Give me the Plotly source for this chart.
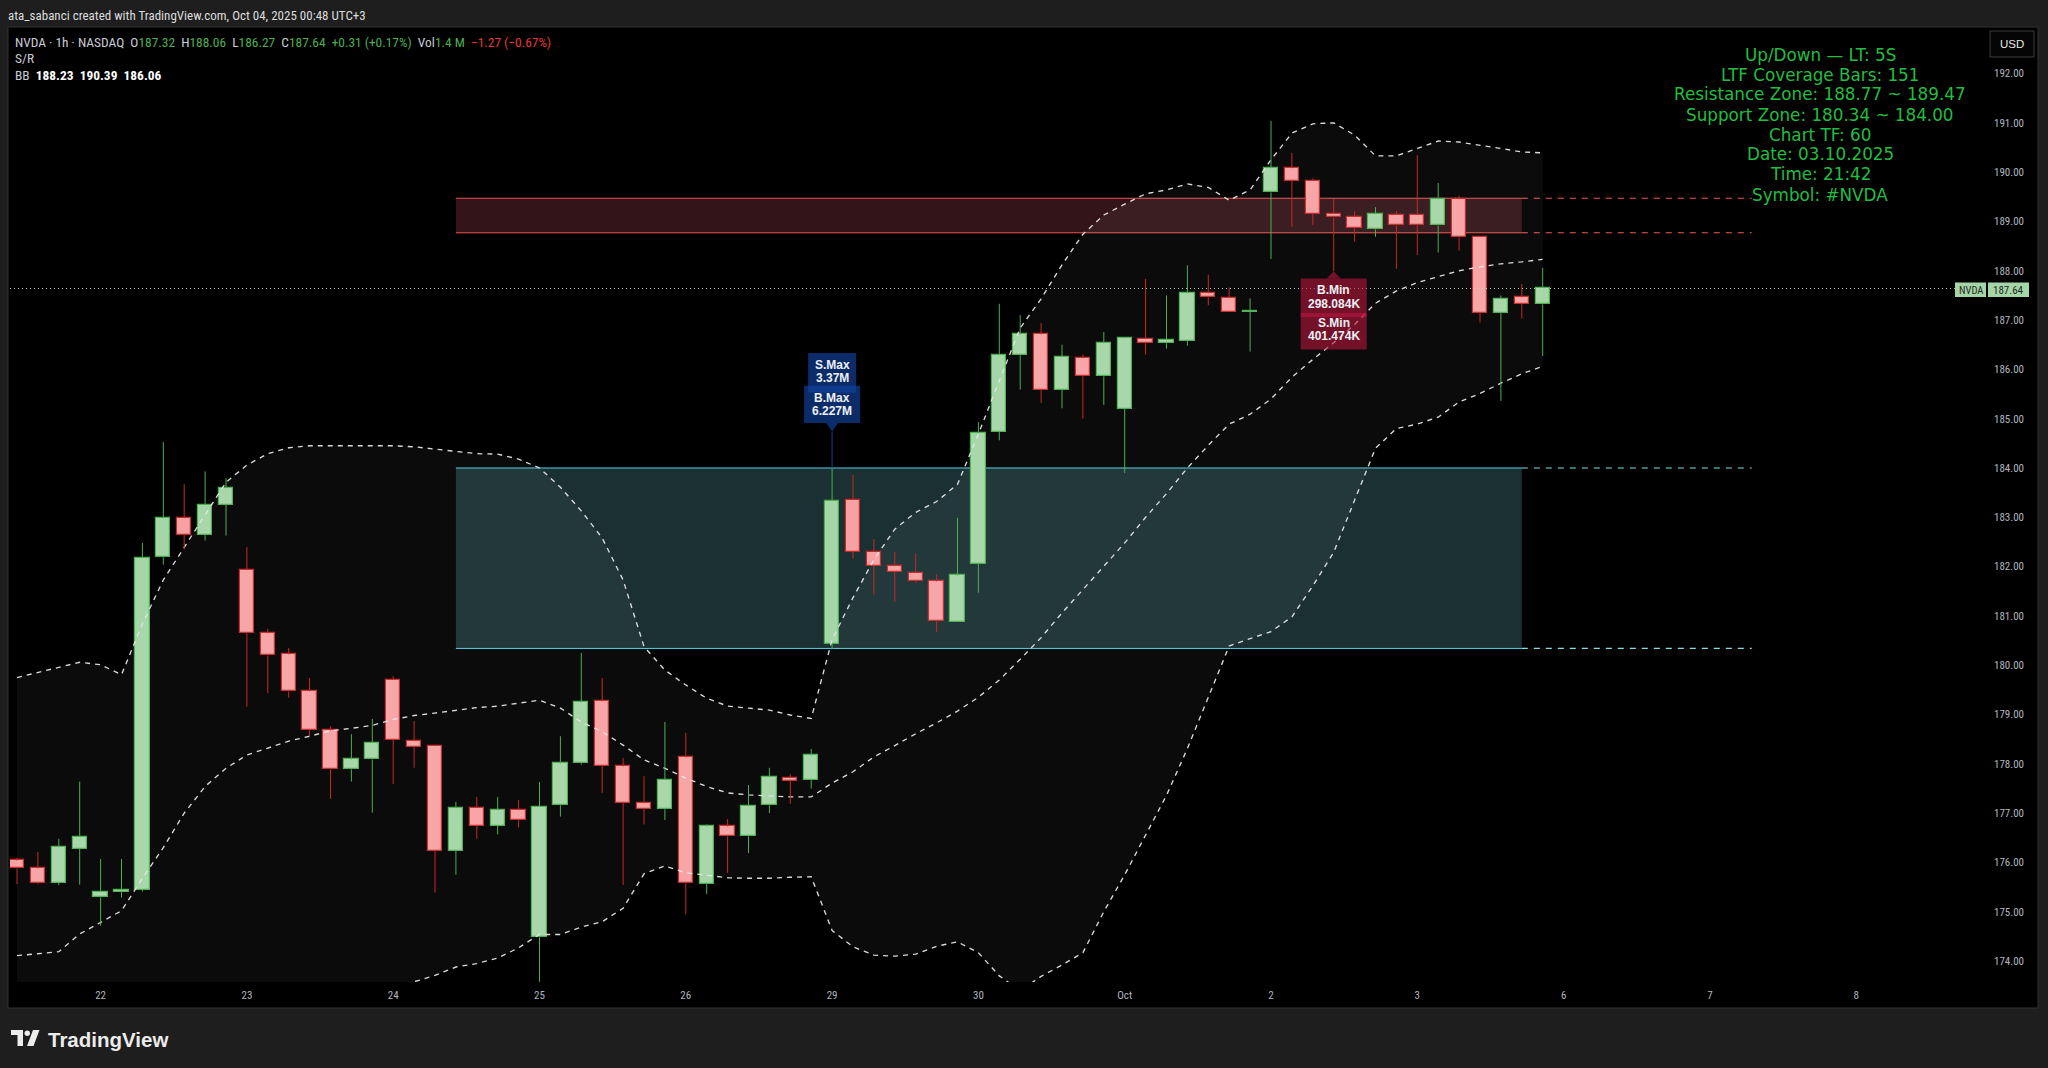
import plotly.graph_objects as go
import numpy as np

# ---------------- data ----------------
bar_idx = list(range(74))
open_ = [176.04, 175.88, 175.59, 176.28, 175.29, 175.41, 175.44, 182.19, 182.98, 182.64,
         183.25, 181.93, 180.65, 180.22, 179.47, 178.68, 177.89, 178.09, 179.71, 178.47,
         178.36, 176.24, 177.11, 176.74, 177.06, 174.48, 177.16, 178.01, 179.27, 177.95,
         177.20, 177.08, 178.13, 175.56, 176.73, 176.53, 177.16, 177.72, 177.67, 180.43,
         183.35, 182.30, 182.02, 181.88, 181.70, 180.87, 182.06, 184.73, 186.29, 186.71,
         185.59, 186.24, 185.86, 185.20, 186.62, 186.53, 186.58, 187.54, 187.45, 187.16,
         189.59, 190.08, 189.83, 189.16, 189.10, 188.84, 189.14, 189.14, 188.92, 189.45,
         188.68, 187.14, 187.46, 187.32]
high = [176.09, 176.21, 176.48, 177.64, 176.07, 176.07, 182.48, 184.53, 183.67, 183.93,
        183.79, 182.40, 180.74, 180.35, 179.74, 178.76, 178.60, 178.91, 179.78, 178.87,
        178.39, 177.23, 177.33, 177.33, 177.27, 177.63, 178.56, 180.25, 179.74, 178.12,
        177.75, 178.85, 178.63, 176.77, 176.88, 177.57, 177.92, 177.79, 178.30, 184.00,
        183.86, 182.56, 182.30, 182.26, 181.84, 182.99, 184.93, 187.33, 187.10, 186.94,
        186.50, 186.30, 186.76, 186.65, 187.83, 187.50, 188.11, 187.92, 187.66, 187.44,
        191.04, 190.39, 189.87, 189.46, 189.21, 189.29, 189.21, 190.35, 189.78, 189.52,
        188.68, 187.50, 187.73, 188.06]
low = [175.56, 175.56, 175.54, 175.55, 174.72, 175.29, 175.41, 182.04, 182.35, 182.53,
       182.63, 179.16, 179.43, 179.34, 178.56, 177.29, 177.64, 177.01, 177.59, 177.92,
       175.39, 175.75, 176.48, 176.57, 176.71, 173.58, 176.93, 177.98, 177.41, 175.54,
       176.77, 176.86, 174.95, 175.36, 175.79, 176.19, 177.00, 177.19, 177.50, 180.33,
       182.16, 181.43, 181.29, 181.67, 180.67, 180.87, 181.47, 184.56, 185.59, 185.32,
       185.21, 185.00, 185.28, 183.90, 186.30, 186.42, 186.48, 187.30, 187.16, 186.36,
       188.24, 188.89, 188.93, 188.60, 188.59, 188.69, 188.04, 188.32, 188.37, 188.41,
       186.95, 185.36, 187.03, 186.27]
close = [175.88, 175.58, 176.31, 176.52, 175.41, 175.45, 182.17, 182.98, 182.65, 183.25,
         183.59, 180.65, 180.20, 179.47, 178.68, 177.89, 178.09, 178.43, 178.49, 178.34,
         176.24, 177.10, 176.74, 177.06, 176.87, 177.13, 178.01, 179.25, 177.96, 177.21,
         177.08, 177.67, 175.58, 176.73, 176.53, 177.14, 177.73, 177.66, 178.17, 183.34,
         182.30, 182.01, 181.89, 181.70, 180.89, 181.82, 184.70, 186.29, 186.71, 185.59,
         186.26, 185.86, 186.53, 186.63, 186.53, 186.59, 187.54, 187.46, 187.16, 187.16,
         190.08, 189.83, 189.16, 189.08, 188.86, 189.16, 188.92, 188.92, 189.45, 188.68,
         187.14, 187.43, 187.33, 187.64]
bb_upper = [179.75, 179.85, 179.95, 180.06, 180.01, 179.81, 180.84, 181.73, 182.39, 183.05,
            183.71, 184.06, 184.29, 184.41, 184.45, 184.45, 184.45, 184.45, 184.45, 184.43,
            184.38, 184.33, 184.29, 184.28, 184.18, 184.00, 183.61, 183.13, 182.58, 181.73,
            180.38, 179.90, 179.60, 179.33, 179.17, 179.13, 179.09, 178.99, 178.92, 180.52,
            181.37, 182.14, 182.76, 183.10, 183.32, 183.67, 184.69, 185.77, 186.84, 187.43,
            188.12, 188.74, 189.13, 189.35, 189.56, 189.64, 189.76, 189.69, 189.43, 189.64,
            190.25, 190.79, 190.98, 191.00, 190.75, 190.33, 190.33, 190.48, 190.63, 190.61,
            190.55, 190.48, 190.41, 190.39]
bb_basis = [174.11, 174.15, 174.19, 174.55, 174.78, 175.02, 175.68, 176.30, 177.00, 177.54,
            177.91, 178.18, 178.32, 178.46, 178.56, 178.67, 178.72, 178.78, 178.90, 178.98,
            179.03, 179.09, 179.14, 179.17, 179.23, 179.29, 179.13, 178.85, 178.65, 178.38,
            178.08, 177.91, 177.71, 177.54, 177.41, 177.37, 177.35, 177.33, 177.33, 177.61,
            177.84, 178.14, 178.37, 178.61, 178.83, 179.07, 179.35, 179.70, 180.12, 180.56,
            181.06, 181.53, 182.01, 182.48, 183.00, 183.48, 184.00, 184.46, 184.89, 185.09,
            185.40, 185.84, 186.20, 186.54, 186.91, 187.34, 187.59, 187.76, 187.88, 188.00,
            188.08, 188.14, 188.18, 188.23]
bb_lower = [168.47, 168.45, 168.43, 169.04, 169.55, 170.23, 170.52, 170.87, 171.61, 172.03,
            172.11, 172.30, 172.35, 172.51, 172.67, 172.89, 172.99, 173.11, 173.35, 173.58,
            173.71, 173.88, 173.95, 174.06, 174.27, 174.54, 174.54, 174.69, 174.80, 175.07,
            175.77, 175.93, 175.79, 175.74, 175.69, 175.68, 175.68, 175.70, 175.71, 174.62,
            174.29, 174.12, 174.10, 174.14, 174.30, 174.39, 174.17, 173.70, 173.40, 173.69,
            173.92, 174.17, 175.00, 175.75, 176.54, 177.36, 178.31, 179.37, 180.39, 180.54,
            180.68, 180.98, 181.61, 182.29, 183.33, 184.40, 184.80, 184.89, 185.03, 185.34,
            185.51, 185.72, 185.91, 186.06]

day_tick_bars = [4, 11, 18, 25, 32, 39, 46, 53, 60, 67, 74, 81, 88]
day_tick_labels = ["22", "23", "24", "25", "26", "29", "30", "Oct", "2", "3", "6", "7", "8"]
price_ticks = list(range(174, 193))

support_zone = [180.34, 184.00]
resistance_zone = [188.77, 189.47]
zone_bars = [21, 72, 83]          # start, end of box, end of dashed extension
last_price = 187.64
max_label_bar, max_label_price = 39, 184.74
min_label_bar, min_label_price = 63, 187.99
max_label_texts = ["S.Max", "3.37M", "B.Max", "6.227M"]
min_label_texts = ["B.Min", "298.084K", "S.Min", "401.474K"]

info_lines = ["Up/Down — LT: 5S", "LTF Coverage Bars: 151",
              "Resistance Zone: 188.77 ~ 189.47", "Support Zone: 180.34 ~ 184.00",
              "Chart TF: 60", "Date: 03.10.2025", "Time: 21:42", "Symbol: #NVDA"]

# ---------------- styling ----------------
W_, H_ = 2048, 1068
L, R, T, B = 10, 1988, 28, 982
PW, PH = R - L, B - T
def PX(px): return (px - L) / PW
def PY(py): return (B - py) / PH

UP_FILL, UP_LINE = "#a5d6a7", "#4caf50"
DN_FILL, DN_LINE = "#f7a1a4", "#c62828"
NARROW = "Liberation Sans Narrow, Roboto Condensed, Arial Narrow, Liberation Sans, sans-serif"
TICK_COLOR = "#b2b5be"

o = np.array(open_); h = np.array(high); l = np.array(low); c = np.array(close)
x = np.array(bar_idx)
up = c >= o
top = np.maximum(o, c); bot = np.minimum(o, c)
body_h = np.maximum(top - bot, 0.015)

fig = go.Figure()

# Bollinger band fill and lines
bb_line = dict(color="rgba(230,230,230,0.95)", width=1.35, dash="5px,5px")
fig.add_trace(go.Scatter(x=x, y=bb_lower, mode="lines", line=bb_line, hoverinfo="skip"))
fig.add_trace(go.Scatter(x=x, y=bb_upper, mode="lines", line=bb_line, fill="tonexty",
                         fillcolor="rgba(255,255,255,0.045)", hoverinfo="skip"))
fig.add_trace(go.Scatter(x=x, y=bb_basis, mode="lines", line=bb_line, hoverinfo="skip"))

# wicks
def wick_xy(mask):
    wx, wy = [], []
    for i in np.where(mask)[0]:
        if h[i] > top[i]:
            wx += [x[i], x[i], None]; wy += [h[i], top[i], None]
        if l[i] < bot[i]:
            wx += [x[i], x[i], None]; wy += [bot[i], l[i], None]
    return wx, wy
for mask, col in ((up, UP_LINE), (~up, DN_LINE)):
    wx, wy = wick_xy(mask)
    fig.add_trace(go.Scatter(x=wx, y=wy, mode="lines", line=dict(color=col, width=1),
                             hoverinfo="skip"))

# bodies
for mask, fc, lc in ((up, UP_FILL, UP_LINE), (~up, DN_FILL, DN_LINE)):
    fig.add_trace(go.Bar(x=x[mask], y=body_h[mask], base=bot[mask], width=0.68,
                         marker=dict(color=fc, line=dict(color=lc, width=1.2)),
                         hoverinfo="skip"))

shapes = []
# chart pane
shapes.append(dict(type="rect", xref="paper", yref="paper", x0=PX(8), x1=PX(2038),
                   y0=PY(1008), y1=PY(27), fillcolor="#000000",
                   line=dict(color="#303030", width=1), layer="below"))
# zones
s0, s1, s2 = zone_bars
for (zlo, zhi), fillc, linec, dashc in ((support_zone, "#1a3033", "#4dd0e1", "#7fdfea"),
                                         (resistance_zone, "#331418", "#ef5350", "#f25a5a")):
    shapes.append(dict(type="rect", xref="x", yref="y", x0=s0, x1=s1, y0=zlo, y1=zhi,
                       fillcolor=fillc, line=dict(width=0), layer="below"))
    for yy in (zlo, zhi):
        shapes.append(dict(type="line", xref="x", yref="y", x0=s0, x1=s1, y0=yy, y1=yy,
                           line=dict(color=linec, width=1), layer="below"))
        shapes.append(dict(type="line", xref="x", yref="y", x0=s1, x1=s2, y0=yy, y1=yy,
                           line=dict(color=dashc, width=1.2, dash="6px,6px"), layer="below"))
# last price dotted line
shapes.append(dict(type="line", xref="paper", yref="y", x0=0, x1=PX(1955),
                   y0=last_price, y1=last_price,
                   line=dict(color="rgba(200,230,200,0.9)", width=1, dash="1px,3px")))

# label boxes (pixel offsets relative to the data anchor)
def prect(xa, ya, x0, x1, y0, y1, col):
    return dict(type="rect", xref="x", yref="y", xsizemode="pixel", ysizemode="pixel",
                xanchor=xa, yanchor=ya, x0=x0, x1=x1, y0=y0, y1=y1,
                fillcolor=col, line=dict(width=0), layer="above")
def ppath(xa, ya, path, col):
    return dict(type="path", xref="x", yref="y", xsizemode="pixel", ysizemode="pixel",
                xanchor=xa, yanchor=ya, path=path, fillcolor=col, line=dict(width=0),
                layer="above")

BLUE = "rgba(17,67,162,0.65)"
RED = "rgba(191,23,64,0.58)"
shapes.append(dict(type="line", xref="x", yref="y", x0=max_label_bar, x1=max_label_bar,
                   y0=high[max_label_bar], y1=max_label_price,
                   line=dict(color="#123f8f", width=1)))
shapes.append(prect(max_label_bar, max_label_price, -24, 24, 39, 78.5, BLUE))
shapes.append(prect(max_label_bar, max_label_price, -28, 28, 8.4, 45.8, BLUE))
shapes.append(ppath(max_label_bar, max_label_price, "M -6 8.4 L 0 0 L 6 8.4 Z", BLUE))

shapes.append(dict(type="line", xref="x", yref="y", x0=min_label_bar, x1=min_label_bar,
                   y0=low[min_label_bar], y1=min_label_price,
                   line=dict(color=DN_LINE, width=1)))
shapes.append(prect(min_label_bar, min_label_price, -33, 33, -7.3, -45.7, RED))
shapes.append(prect(min_label_bar, min_label_price, -33, 33, -41.7, -78.3, RED))
shapes.append(ppath(min_label_bar, min_label_price, "M -7 -7.3 L 0 0 L 7 -7.3 Z", RED))

# price labels on the right
shapes.append(dict(type="rect", xref="paper", yref="paper", x0=PX(1955), x1=PX(1986),
                   y0=PY(297), y1=PY(282.5), fillcolor="#a5d6a7", line=dict(width=0)))
shapes.append(dict(type="rect", xref="paper", yref="paper", x0=PX(1988), x1=PX(2029),
                   y0=PY(297), y1=PY(282.5), fillcolor="#a5d6a7", line=dict(width=0)))
# USD button
shapes.append(dict(type="rect", xref="paper", yref="paper", x0=PX(1990), x1=PX(2034),
                   y0=PY(57), y1=PY(31), fillcolor="#050505",
                   line=dict(color="#3c3c3c", width=1)))
# TradingView logo (bottom left)
logo = "#ececec"
shapes.append(dict(type="rect", xref="paper", yref="paper", x0=PX(11), x1=PX(23),
                   y0=PY(1035), y1=PY(1030), fillcolor=logo, line=dict(width=0)))
shapes.append(dict(type="rect", xref="paper", yref="paper", x0=PX(17.5), x1=PX(23),
                   y0=PY(1046), y1=PY(1030), fillcolor=logo, line=dict(width=0)))
shapes.append(dict(type="circle", xref="paper", yref="paper", x0=PX(24.5), x1=PX(30),
                   y0=PY(1036), y1=PY(1030.5), fillcolor=logo, line=dict(width=0)))
shapes.append(dict(type="path", xref="paper", yref="paper",
                   path=f"M {PX(27)} {PY(1046)} L {PX(33)} {PY(1030)} L {PX(39.5)} {PY(1030)} "
                        f"L {PX(33.5)} {PY(1046)} Z",
                   fillcolor=logo, line=dict(width=0)))

ann = []
def A(text, px, py, size=12, color="#d1d4dc", family=NARROW, xanchor="left", **kw):
    ann.append(dict(text=text, x=PX(px), y=PY(py), xref="paper", yref="paper",
                    showarrow=False, xanchor=xanchor, yanchor="middle",
                    font=dict(size=size, color=color, family=family), **kw))

A("ata_sabanci created with TradingView.com, Oct 04, 2025 00:48 UTC+3", 6, 15, size=13,
  color="#dcdcdc")
G, RD, GR = "#4caf50", "#e53935", "#c9ccd4"
sp = "\u00a0"
legend1 = (f"NVDA · 1h · NASDAQ{sp}{sp}O<span style='color:{G}'>{open_[-1]:.2f}</span>{sp}{sp}"
           f"H<span style='color:{G}'>{high[-1]:.2f}</span>{sp}{sp}"
           f"L<span style='color:{G}'>{low[-1]:.2f}</span>{sp}{sp}"
           f"C<span style='color:{G}'>{close[-1]:.2f}</span>{sp}{sp}"
           f"<span style='color:{G}'>+0.31 (+0.17%)</span>{sp}{sp}"
           f"Vol<span style='color:{G}'>1.4{sp}M</span>{sp}{sp}"
           f"<span style='color:{RD}'>−1.27 (−0.67%)</span>")
A(legend1, 13, 42, size=13.4, color=GR)
A("S/R", 13, 59, size=13.4, color=GR)
A(f"BB{sp}{sp}<span style='color:#ffffff'><b>{bb_basis[-1]:.2f}{sp}{sp}{bb_upper[-1]:.2f}{sp}{sp}{bb_lower[-1]:.2f}</b></span>",
  13, 76, size=13.4, color=GR)

# info block
for k, line in enumerate(info_lines):
    A(line, 1820, 54.5 + 20.0 * k, size=16.8, color="#22bd40", family="DejaVu Sans",
      xanchor="center")

A("USD", 2012, 44, size=11.5, color="#e8e8e8", family="Liberation Sans", xanchor="center")
A("NVDA", 1970.5, 290, size=10.5, color="#1f2a1f", family=NARROW, xanchor="center")
A(f"{last_price:.2f}", 2008.5, 290, size=11, color="#1f2a1f", family=NARROW, xanchor="center")
A("<b>TradingView</b>", 46, 1039, size=20.5, color="#ececec", family="Liberation Sans, Roboto, sans-serif")

# label texts
for txt, dy in zip(max_label_texts, [66.7, 53.4, 33.4, 20.0]):
    ann.append(dict(text=f"<b>{txt}</b>", x=max_label_bar, y=max_label_price, xref="x", yref="y",
                    yshift=dy, showarrow=False, xanchor="center", yanchor="middle",
                    font=dict(size=12, color="#eef0f4", family="Liberation Sans")))
for txt, dy in zip(min_label_texts, [-19, -32.3, -51.7, -64.7]):
    ann.append(dict(text=f"<b>{txt}</b>", x=min_label_bar, y=min_label_price, xref="x", yref="y",
                    yshift=dy, showarrow=False, xanchor="center", yanchor="middle",
                    font=dict(size=12, color="#eef0f4", family="Liberation Sans")))

x_lo = (L - 17) / 20.9
x_hi = (R - 17) / 20.9
y_lo = 192 - (B - 73.5) / 49.31
y_hi = 192 + (73.5 - T) / 49.31

fig.update_layout(
    width=W_, height=H_, autosize=False,
    margin=dict(l=L, r=W_ - R, t=T, b=H_ - B, pad=0),
    paper_bgcolor="#1e1e1e", plot_bgcolor="#000000",
    showlegend=False, barmode="overlay", bargap=0,
    shapes=shapes, annotations=ann,
    xaxis=dict(range=[x_lo, x_hi], showgrid=False, zeroline=False, showline=False,
               tickvals=day_tick_bars, ticktext=day_tick_labels, ticks="",
               ticklabelstandoff=5,
               tickfont=dict(size=11, color=TICK_COLOR, family=NARROW), fixedrange=True),
    yaxis=dict(range=[y_lo, y_hi], side="right", showgrid=False, zeroline=False,
               showline=False, tickvals=price_ticks,
               ticktext=[f"{v:.2f}" for v in price_ticks], ticks="",
               ticklabelstandoff=5,
               tickfont=dict(size=11, color=TICK_COLOR, family=NARROW), fixedrange=True),
)

fig.write_html("out.html", config=dict(displayModeBar=False))
